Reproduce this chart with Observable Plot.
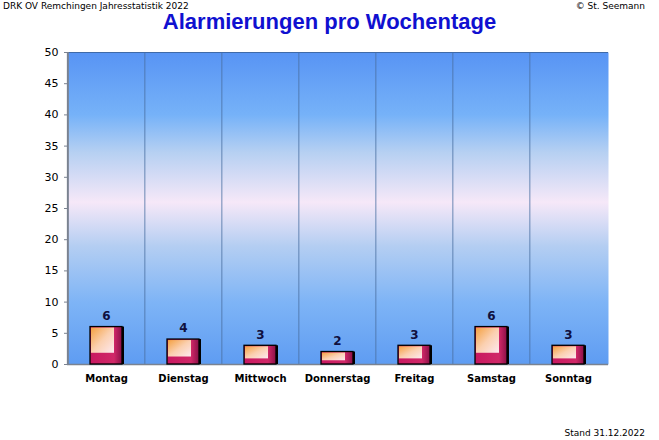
<!DOCTYPE html>
<html>
<head>
<meta charset="utf-8">
<script src="https://cdn.jsdelivr.net/npm/d3@7"></script>
<script src="https://cdn.jsdelivr.net/npm/@observablehq/plot@0.6"></script>
<style>
  body { margin: 0; background: #fff; font-family: "DejaVu Sans", sans-serif; }
  #wrap { position: relative; width: 659px; height: 440px; overflow: hidden; }
  .hdr { position: absolute; font-size: 9px; line-height: 10px; color: #000; white-space: nowrap; }
  #title { position: absolute; left: 0; width: 659px; top: 9px; text-align: center;
           font-family: "Liberation Sans", Arial, sans-serif;
           font-size: 22px; font-weight: bold; color: #1010d0; }
</style>
</head>
<body>
<div id="wrap">
  <div id="chart" style="position:absolute; left:0; top:0;"></div>
  <div class="hdr" style="left:3px; top:1px;">DRK OV Remchingen Jahresstatistik 2022</div>
  <div class="hdr" style="right:14px; top:1px;">© St. Seemann</div>
  <div id="title">Alarmierungen pro Wochentage</div>
  <div class="hdr" style="right:14px; top:428px;">Stand 31.12.2022</div>
</div>
<script>
const days = ["Montag", "Dienstag", "Mittwoch", "Donnerstag", "Freitag", "Samstag", "Sonntag"];
const counts = [6, 4, 3, 2, 3, 6, 3];
const yTicks = [0, 5, 10, 15, 20, 25, 30, 35, 40, 45, 50];

const data = days.map((d, i) => ({day: d, n: counts[i]}));

const W = 659, H = 440, mL = 67, mR = 51, mT = 52, mB = 76;
const step = (W - mL - mR) / days.length;

const chart = Plot.plot({
  width: W,
  height: H,
  marginLeft: mL,
  marginRight: mR,
  marginTop: mT,
  marginBottom: mB,
  style: {fontFamily: "DejaVu Sans, sans-serif", fontSize: "10px", background: "transparent", overflow: "visible"},
  x: {domain: days, paddingInner: 0.58, paddingOuter: 0.29, label: null},
  y: {domain: [0, 50], ticks: yTicks, label: null},
  marks: [
    Plot.frame({fill: "url(#bgGrad)", stroke: null}),
    Plot.ruleX(days.slice(1), {x: d => d, dx: -step / 2, stroke: "#4a6fa0", strokeWidth: 1, strokeOpacity: 0.8}),
    Plot.ruleY([50], {stroke: "#3f6aa8", strokeWidth: 1.2}),
    Plot.ruleX([0], {x: () => days[0], dx: -step / 2, stroke: "#7a8290", strokeWidth: 2}),
    Plot.ruleY([0], {stroke: "#7a8290", strokeWidth: 1.5}),
    // shadow
    Plot.barY(data, {x: "day", y: "n", fill: "#000", dx: 2, dy: 0}),
    // outer bar
    Plot.barY(data, {x: "day", y: "n", fill: "url(#outerGrad)", stroke: "#000", strokeWidth: 1.3}),
    // inner lighter face
    Plot.barY(data, {x: "day", y1: d => d.n * 0.3, y2: "n", fill: "url(#innerGrad)", insetRight: 8, insetLeft: 1, insetTop: 1}),
    Plot.text(data, {x: "day", y: "n", text: d => String(d.n), dy: -11, fontSize: 12, fontWeight: "bold", fill: "#101040"}),
    Plot.axisY({ticks: yTicks, tickSize: 3, tickPadding: 6, fontSize: 11, stroke: "#7a8290", fill: "#000"}),
    Plot.axisX({tickSize: 0, tickPadding: 10, fontSize: 10, fontWeight: "bold", fill: "#000"})
  ]
});

const ns = "http://www.w3.org/2000/svg";
const defs = document.createElementNS(ns, "defs");
defs.innerHTML = `
  <linearGradient id="bgGrad" x1="0" y1="0" x2="0" y2="1">
    <stop offset="0" stop-color="#5894f4"/>
    <stop offset="0.2" stop-color="#76b2f8"/>
    <stop offset="0.32" stop-color="#b6d0f2"/>
    <stop offset="0.48" stop-color="#f6e8f8"/>
    <stop offset="0.62" stop-color="#b4cef2"/>
    <stop offset="0.8" stop-color="#7eb4f6"/>
    <stop offset="1" stop-color="#5e9cf2"/>
  </linearGradient>
  <linearGradient id="outerGrad" x1="0" y1="0" x2="1" y2="0">
    <stop offset="0" stop-color="#c81860"/>
    <stop offset="0.75" stop-color="#d02868"/>
    <stop offset="1" stop-color="#8a1048"/>
  </linearGradient>
  <linearGradient id="innerGrad" x1="0" y1="0" x2="1" y2="1">
    <stop offset="0" stop-color="#f4a040"/>
    <stop offset="0.5" stop-color="#fbd0b0"/>
    <stop offset="1" stop-color="#fde8f0"/>
  </linearGradient>`;
chart.insertBefore(defs, chart.firstChild);
document.getElementById("chart").appendChild(chart);
</script>
</body>
</html>
